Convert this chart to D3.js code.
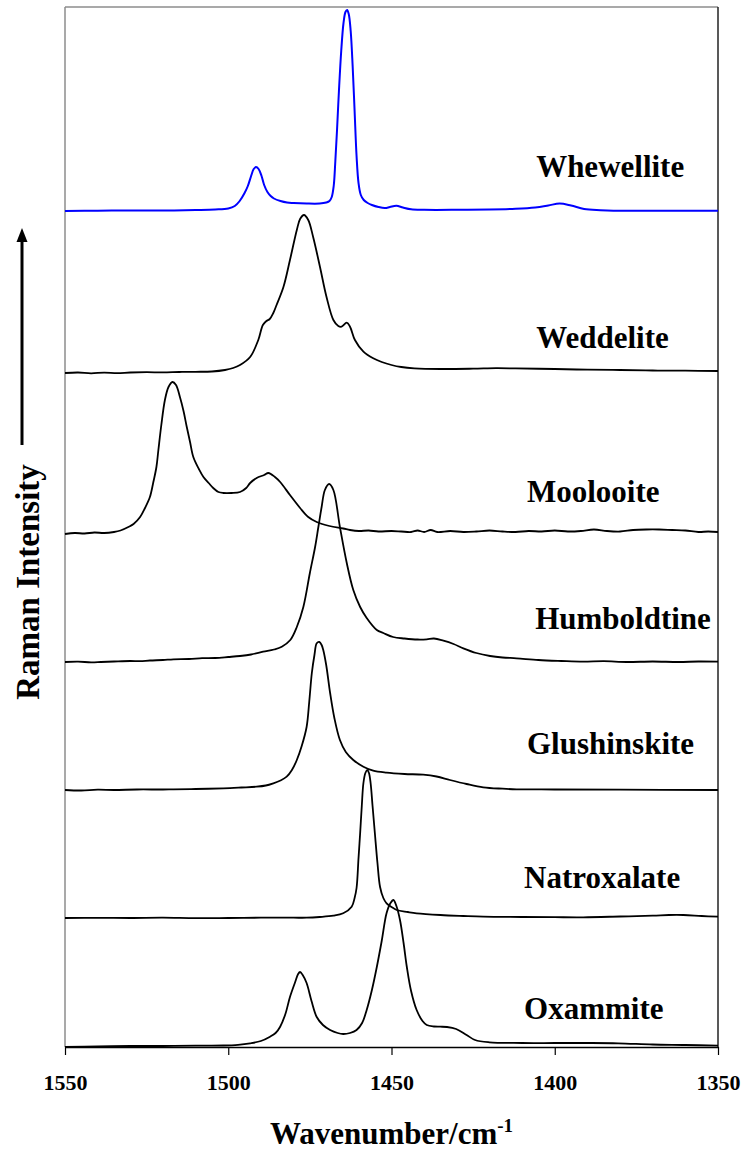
<!DOCTYPE html>
<html>
<head>
<meta charset="utf-8">
<script src="https://cdn.jsdelivr.net/npm/d3@7"></script>
<style>
  body { margin: 0; background: #fff; }
  text { font-family: "Times New Roman", "Liberation Serif", serif; font-weight: bold; }
</style>
</head>
<body>
<svg id="chart" width="744" height="1155"></svg>
<script>
// spectra: [wavenumber, intensity above own baseline] (arbitrary units)
const whewellite = [[1550,0],[1540,0.3],[1530,0.5],[1520,0.5],[1510,1],[1504,1.5],[1500,2.5],[1498,5],[1496.5,10],[1495,18],[1494,25],[1493,35],[1492.2,42],[1491.5,44],[1490.7,42],[1489.8,35],[1489,26],[1488,19],[1487,15],[1486,12.5],[1484,10],[1482,8.5],[1480,8],[1476,7.5],[1472,7.5],[1470,8.5],[1469,10],[1468.3,14],[1467.7,25],[1467.2,50],[1466.7,80],[1466.1,120],[1465.4,160],[1464.7,188],[1464.1,199],[1463.6,201],[1463.1,197],[1462.5,180],[1461.9,145],[1461.3,100],[1460.7,55],[1460.1,28],[1459.4,16],[1458.5,11],[1457.3,8],[1456,6],[1454,4],[1452,3],[1450.5,4],[1448.5,5.3],[1446.5,3.5],[1444,1.7],[1440,1.2],[1430,1.2],[1420,1.5],[1412,2.2],[1406,3.5],[1402,5.5],[1398.5,7.5],[1395,5.5],[1391,2],[1386,0.8],[1382,0.3],[1370,0.3],[1350,0.3]];

const weddelite = [[1550,0],[1546,0.5],[1542,-0.3],[1538,0.4],[1534,-0.2],[1530,0.5],[1525,0.8],[1520,0.6],[1515,1],[1510,1.2],[1505,1.5],[1501,3],[1498.5,5],[1496.4,8],[1493.3,16],[1490.8,33],[1489.4,48],[1488.3,52],[1487.3,54],[1486.2,60],[1485.2,68],[1483.1,86],[1481.1,113],[1479,143],[1478,154],[1476.8,158],[1475.5,153],[1474,136],[1471.9,106],[1469.9,76],[1467.8,53],[1466.3,47],[1465.3,46.3],[1463.7,50.3],[1462.7,46.3],[1461.2,33],[1458.6,21.3],[1455.6,14.7],[1453,11],[1450,8],[1447,6],[1443,4.7],[1435,4],[1425,4.3],[1418,4.8],[1412,4.6],[1400,4],[1390,3.3],[1380,3],[1370,2.5],[1360,2.3],[1350,2]];

const moolooite = [[1550,-1],[1547,0],[1544,-0.5],[1541,0.5],[1538,0],[1535,1],[1533,2.5],[1530.6,6],[1529,9],[1527,16],[1525.5,25],[1524,36],[1523,50],[1522,66],[1521.4,83],[1520.5,108],[1519.4,133],[1518.3,146],[1517.1,151],[1516,148],[1514.8,136],[1513.7,122],[1512.7,106],[1511.7,91],[1510.7,76],[1509,64],[1507.6,56],[1506,50],[1504.6,45],[1503,41],[1501.5,40],[1499,40],[1496.4,41],[1494.5,45],[1493.3,50],[1491.3,55],[1489,58],[1487.7,60],[1485.7,56],[1484.1,51],[1481.1,38],[1478,25],[1475.5,16],[1472.9,11],[1469,7],[1464.8,4.5],[1462.7,3],[1460,2],[1457,2.5],[1454,1.5],[1450,2],[1447,1.5],[1444,1],[1442,2.5],[1440,1],[1438,3],[1436,1],[1432,2],[1428,1],[1424,1.5],[1420,2.5],[1416,1.5],[1412,1],[1408,2],[1404,1.5],[1400,2.5],[1396,1.5],[1392,2],[1388,3.5],[1384,2],[1380,1.5],[1376,3],[1372,3.5],[1368,3.5],[1364,3],[1360,2.5],[1356,1],[1353,1.5],[1350,1]];

const humboldtine = [[1550,0],[1546,0.3],[1542,-0.3],[1539,0],[1535,0.5],[1530,1],[1527,0.8],[1524,1.5],[1520,2],[1516.8,2.7],[1512,3],[1508,3.8],[1504,4],[1500,5],[1496.4,6],[1493,7.5],[1489.3,10.3],[1486,12.5],[1483.6,15.3],[1481,22],[1479,35],[1477,55],[1475,89],[1473.4,115],[1472.4,135],[1471.4,155],[1470.4,172],[1469.1,178],[1467.8,172],[1465.8,135],[1463.7,99],[1461.7,72],[1459.6,55],[1457.6,44],[1454.5,32],[1452.5,29],[1449.5,25],[1446,23.5],[1442,22.5],[1439.2,22.7],[1437,23.5],[1434.1,21.3],[1431,18],[1428,13.7],[1424,9],[1419.8,6],[1416,4.5],[1411.7,3.7],[1405,2],[1398,1],[1391.3,0.3],[1385,0.8],[1378,0],[1370,0.5],[1362,0],[1356,0.5],[1350,0.3]];

const glushinskite = [[1550,0],[1545,-0.5],[1540,0.3],[1535,0],[1528,0.5],[1520,0.5],[1516.8,0.7],[1510,1],[1501.5,1.7],[1496,2.5],[1491.3,3.3],[1488.5,4.5],[1486.2,6.7],[1484,9.5],[1482.1,13.3],[1480.5,20],[1479,30],[1477.5,44],[1476,63],[1475.2,88],[1474.4,117],[1473.6,135],[1472.9,146.7],[1472.1,148],[1471.4,145],[1470.9,140],[1470,125],[1468.8,97],[1467.5,72],[1465.8,50],[1464,38],[1461.7,30],[1458.6,23.3],[1455.6,19.3],[1451.5,17.3],[1446,16],[1440.3,15.3],[1436.2,13.5],[1432.1,10],[1427,6],[1421.9,2.7],[1416,1.3],[1411.7,0.7],[1400,0.5],[1380,0.3],[1350,0]];

const natroxalate = [[1550,0],[1540,0.2],[1530,0],[1520,0.3],[1510,-0.2],[1500,0],[1490,0.3],[1480,0.3],[1476,0.3],[1472,1],[1467.8,2.3],[1464.8,4.7],[1462.2,11.3],[1461.3,20],[1460.7,30],[1460.1,60],[1459.6,85],[1459.1,112],[1458.6,135],[1458,145],[1457.4,148],[1456.9,145],[1456.4,135],[1455.8,112],[1455.1,85],[1454.3,55],[1453.5,31],[1452.5,20],[1451.5,14.7],[1450,11],[1448.4,8],[1445,6],[1442.3,4.7],[1435,3],[1428,2],[1421.9,1.3],[1410,1],[1400,0.8],[1391.3,0.7],[1380,1.5],[1370,2.3],[1365,3],[1360.6,3],[1355,2],[1350,1.3]];

const oxammite = [[1550,-1],[1540,-0.5],[1530,0],[1520,0],[1510,0.3],[1501.5,0.5],[1497,1.2],[1493.3,2.7],[1490,5],[1487.2,9.3],[1485.5,13],[1484.1,19.3],[1482.5,32],[1481.1,49],[1479.5,64],[1478.6,72],[1478,74],[1477.2,71],[1476,63],[1474.5,45],[1472.9,29],[1471,21],[1468.8,16],[1466.5,13],[1464.8,12],[1462.7,13],[1460.7,16],[1459,23],[1457.6,36],[1456,56],[1454.5,79],[1453,105],[1451.5,133],[1450.3,143],[1449.4,146],[1448.5,140],[1447.4,126],[1446.3,103],[1445.3,79],[1444,55],[1442.3,36],[1440.5,25],[1439.2,21],[1437,19.5],[1435.1,19.3],[1433,19],[1430.2,17],[1427,11],[1424.4,6],[1420,3.7],[1410,3],[1400,3],[1390,3],[1380.6,2.7],[1370,1.5],[1360,1],[1350,0.3]];

const names   = ["Whewellite", "Weddelite", "Moolooite", "Humboldtine", "Glushinskite", "Natroxalate", "Oxammite"];
const spectra = [whewellite, weddelite, moolooite, humboldtine, glushinskite, natroxalate, oxammite];
const offsets = [835, 673, 513, 384, 256, 128, 0];   // vertical stacking of each trace
const colors  = ["#0000ff", "#000", "#000", "#000", "#000", "#000", "#000"];
const xTicks  = [1550, 1500, 1450, 1400, 1350];

// label placement: [left edge in cm-1, px above the trace baseline]
const labelAt = [[1405.7, 34], [1405.7, 25], [1408.5, 31], [1406, 33], [1408.5, 36], [1409.4, 30], [1409.4, 27]];

const plotLeft = 65, plotRight = 718, plotTop = 7, plotBottom = 1047;

const svg = d3.select("#chart");

const x = d3.scaleLinear().domain([1550, 1350]).range([plotLeft, plotRight]);
const y = d3.scaleLinear().domain([-1, 1039]).range([plotBottom, plotTop]);

// frame: grey top/left, dark right
svg.append("line").attr("x1", plotLeft).attr("x2", plotRight).attr("y1", plotTop).attr("y2", plotTop)
  .attr("stroke", "#8c8c8c").attr("stroke-width", 1.5);
svg.append("line").attr("x1", plotLeft).attr("x2", plotLeft).attr("y1", plotTop).attr("y2", plotBottom)
  .attr("stroke", "#8c8c8c").attr("stroke-width", 1.5);
svg.append("line").attr("x1", plotRight).attr("x2", plotRight).attr("y1", plotTop).attr("y2", plotBottom)
  .attr("stroke", "#222").attr("stroke-width", 1.5);

// traces
spectra.forEach((s, i) => {
  const line = d3.line()
    .x(d => x(d[0]))
    .y(d => y(d[1] + offsets[i]))
    .curve(d3.curveCatmullRom.alpha(0.5));
  svg.append("path")
    .datum(s)
    .attr("d", line)
    .attr("fill", "none")
    .attr("stroke", colors[i])
    .attr("stroke-width", i == 0 ? 2 : 1.8)
    .attr("stroke-linejoin", "round");

  svg.append("text")
    .attr("x", x(labelAt[i][0]))
    .attr("y", y(offsets[i]) - labelAt[i][1])
    .attr("font-size", 31)
    .attr("fill", "#000")
    .text(names[i]);
});

// x axis
const xAxis = svg.append("g")
  .attr("transform", `translate(0,${plotBottom})`)
  .call(d3.axisBottom(x).tickValues(xTicks).tickSize(8).tickSizeOuter(0).tickPadding(19).tickFormat(d3.format("d")));
xAxis.select(".domain").attr("stroke", "#000").attr("stroke-width", 1.5);
xAxis.selectAll(".tick line").attr("stroke", "#000").attr("stroke-width", 1.2);
xAxis.selectAll(".tick text")
  .attr("font-size", 22)
  .attr("font-family", "'Times New Roman', 'Liberation Serif', serif")
  .attr("font-weight", "bold")
  .attr("fill", "#000");

// axis title
const title = svg.append("text")
  .attr("x", (plotLeft + plotRight) / 2)
  .attr("y", 1144)
  .attr("text-anchor", "middle")
  .attr("font-size", 31);
title.append("tspan").text("Wavenumber/cm");
title.append("tspan").attr("font-size", 19).attr("dy", -12).text("-1");

// y label + arrow
svg.append("text")
  .attr("transform", "translate(39,582) rotate(-90)")
  .attr("text-anchor", "middle")
  .attr("font-size", 33)
  .text("Raman Intensity");

svg.append("line")
  .attr("x1", 22).attr("x2", 22).attr("y1", 445).attr("y2", 238)
  .attr("stroke", "#000").attr("stroke-width", 3);
svg.append("path")
  .attr("d", "M22,228 L16.5,242 L27.5,242 Z")
  .attr("fill", "#000");
</script>
</body>
</html>
